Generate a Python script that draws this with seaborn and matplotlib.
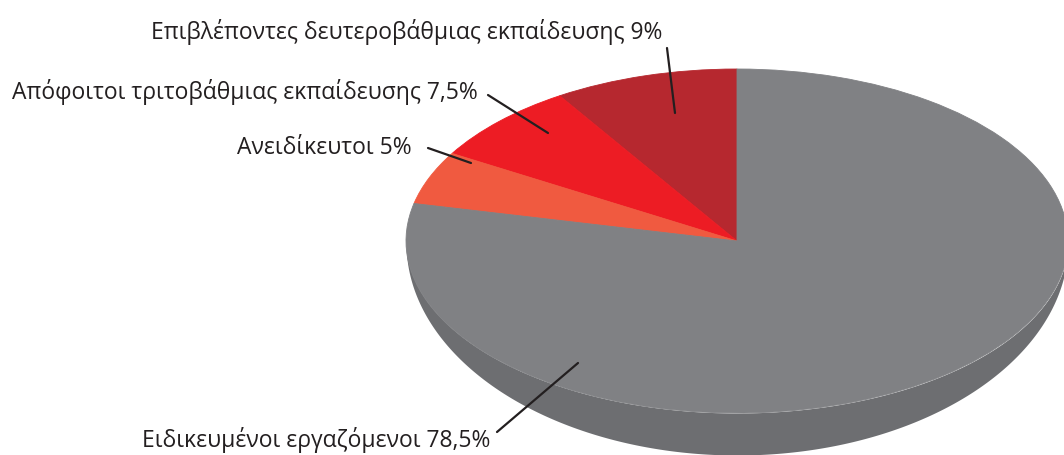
import seaborn as sns
import matplotlib.pyplot as plt
import numpy as np

# slices, counter-clockwise from 12 o'clock
labels = ['Επιβλέποντες δευτεροβάθμιας εκπαίδευσης 9%',
          'Απόφοιτοι τριτοβάθμιας εκπαίδευσης 7,5%',
          'Ανειδίκευτοι 5%',
          'Ειδικευμένοι εργαζόμενοι 78,5%']
shares = [9, 7.5, 5, 78.5]
colors = ['#b6282f', '#ed1c24', '#f05a40', '#808184']
side_color = '#6d6e71'

sns.set_style('white')
plt.rcParams['font.family'] = ['Open Sans', 'DejaVu Sans']

W, H = 1064, 455
cx, cy, rx, ry, depth = 737, 241, 331, 172, 40

fig = plt.figure(figsize=(W / 100, H / 100), dpi=100)
ax = fig.add_axes([0, 0, 1, 1])

# pixel -> data (pie is a unit circle, squashed into an ellipse by the limits)
def P(px, py):
    return ((px - cx) / rx, (cy - py) / ry)

# side of the disc: thin at the ends, thickest at the front
xs = np.linspace(-1, 1, 800)
yl = -np.sqrt(1 - xs ** 2)
ax.fill_between(xs, yl * (1 + depth / ry) - 2 / ry, yl, color=side_color,
                lw=0, zorder=1)

wedges, _ = ax.pie(shares, colors=colors, startangle=90, counterclock=True,
                   wedgeprops=dict(linewidth=0.6, zorder=2))
for w in wedges:
    w.set_edgecolor(w.get_facecolor())

ax.set_aspect('auto')
ax.set_xlim(-cx / rx, (W - cx) / rx)
ax.set_ylim((cy - H) / ry, cy / ry)
ax.axis('off')

# label text end (right) and leader line
text_pos = [(662, 32), (478, 92), (412, 148), (490, 440)]
line_from = [(667, 48), (488, 95), (428, 148), (497, 432)]
line_to = [(675, 113), (548, 133), (471, 163), (578, 363)]

for lab, tp, a, b in zip(labels, text_pos, line_from, line_to):
    ax.text(*P(*tp), lab, ha='right', va='center', fontsize=16.5,
            color='#231f20', zorder=5)
    ax.annotate('', xy=P(*b), xytext=P(*a),
                arrowprops=dict(arrowstyle='-', color='#231f20', lw=1.6,
                                shrinkA=0, shrinkB=0), zorder=5)

fig.savefig('out.png', dpi=100)
